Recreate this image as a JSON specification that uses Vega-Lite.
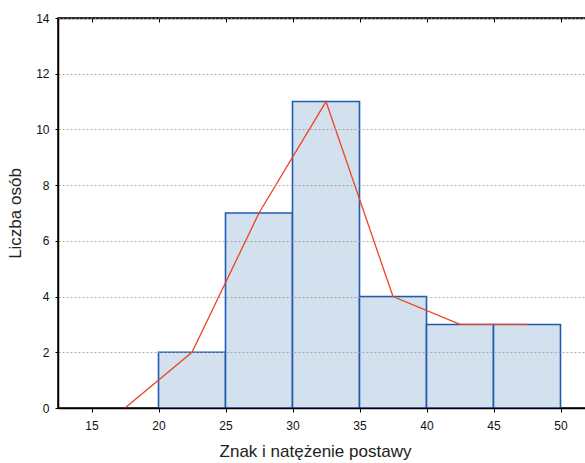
{
  "$schema": "https://vega.github.io/schema/vega-lite/v6.json",
  "autosize": "none",
  "padding": {"left": 58, "top": 18, "right": 0, "bottom": 55},
  "width": 536,
  "height": 390,
  "background": "white",
  "config": {
    "font": "Liberation Sans",
    "view": {"stroke": "black", "strokeWidth": 1.5}
  },
  "datasets": {
    "bins": [
      {"start": 20, "end": 25, "count": 2},
      {"start": 25, "end": 30, "count": 7},
      {"start": 30, "end": 35, "count": 11},
      {"start": 35, "end": 40, "count": 4},
      {"start": 40, "end": 45, "count": 3},
      {"start": 45, "end": 50, "count": 3}
    ],
    "poly": [
      {"mid": 17.5, "count": 0},
      {"mid": 22.5, "count": 2},
      {"mid": 27.5, "count": 7},
      {"mid": 32.5, "count": 11},
      {"mid": 37.5, "count": 4},
      {"mid": 42.5, "count": 3},
      {"mid": 47.5, "count": 3}
    ]
  },
  "layer": [
    {
      "data": {"name": "bins"},
      "mark": {"type": "rect", "fill": "#d3e0ee", "stroke": "#1f5bb0", "strokeWidth": 1.6},
      "encoding": {
        "x": {
          "field": "start", "type": "quantitative",
          "scale": {"domain": [12.5, 52.5], "nice": false, "zero": false},
          "axis": {
            "orient": "bottom", "values": [15, 20, 25, 30, 35, 40, 45, 50],
            "title": "Znak i natężenie postawy", "titleFontSize": 17, "titleFontWeight": "normal",
            "titleColor": "#222", "titlePadding": 12, "titleX": 257,
            "labelFontSize": 12, "labelColor": "#111", "labelPadding": 8,
            "domainColor": "black", "domainWidth": 1.5, "tickColor": "black", "tickSize": 4,
            "grid": false, "zindex": 1
          }
        },
        "x2": {"field": "end"},
        "y": {
          "field": "count", "type": "quantitative",
          "scale": {"domain": [0, 14], "nice": false},
          "axis": {
            "values": [0, 2, 4, 6, 8, 10, 12, 14],
            "title": "Liczba osób", "titleFontSize": 17, "titleFontWeight": "normal",
            "titleColor": "#222", "titlePadding": 11,
            "labelFontSize": 12, "labelColor": "#111", "labelPadding": 6,
            "domainColor": "black", "domainWidth": 1.5, "tickColor": "black", "tickSize": 3,
            "grid": true, "gridColor": "#999", "gridDash": [2, 2], "gridWidth": 0.8, "zindex": 1
          }
        },
        "y2": {"datum": 0}
      }
    },
    {
      "data": {"name": "poly"},
      "mark": {"type": "line", "color": "#ee4422", "strokeWidth": 1.3},
      "encoding": {
        "x": {
          "field": "mid", "type": "quantitative",
          "axis": {"orient": "top", "values": [15, 20, 25, 30, 35, 40, 45, 50], "labels": false, "title": null,
            "domainColor": "black", "domainWidth": 1.5, "tickColor": "black", "tickSize": -4, "grid": false}
        },
        "y": {"field": "count", "type": "quantitative", "axis": null}
      }
    }
  ],
  "resolve": {"axis": {"x": "independent", "y": "independent"}}
}
